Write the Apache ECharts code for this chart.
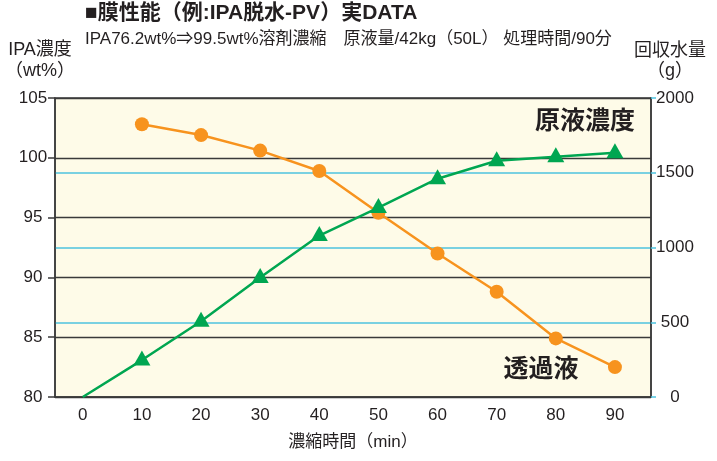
<!DOCTYPE html>
<html><head><meta charset="utf-8">
<script src="https://cdn.jsdelivr.net/npm/echarts@6/dist/echarts.min.js"></script>
<style>html,body{margin:0;padding:0;background:#fff}#c{width:717px;height:461px}</style>
</head><body><div id="c"></div>
<script>
const times = [0, 10, 20, 30, 40, 50, 60, 70, 80, 90];
const xTickLabels = [0, 10, 20, 30, 40, 50, 60, 70, 80, 90];
const feedTimes = [10, 20, 30, 40, 50, 60, 70, 80, 90];
const permeateConc = [102.8, 101.9, 100.6, 98.9, 95.4, 92.0, 88.8, 84.9, 82.5];   // orange, left axis
const recoveredWater = [0, 247, 507, 800, 1080, 1267, 1460, 1580, 1607, 1633];   // green, right axis

const FONT = '"Liberation Sans", "Noto Sans CJK JP", sans-serif';
const TXT = '#231F20';
const chart = echarts.init(document.getElementById('c'));
chart.setOption({
  animation: false,
  textStyle: { fontFamily: FONT },
  grid: { left: 55, right: 66, top: 98, bottom: 64, show: true, backgroundColor: '#FEFBE8', borderColor: '#3a3a3a', borderWidth: 1.5 },
  xAxis: {
    type: 'value', min: -4.7, max: 96.1,
    axisLine: { show: true, lineStyle: { color: '#3a3a3a', width: 1.5 } },
    axisTick: { show: false },
    splitLine: { show: false },
    axisLabel: { customValues: xTickLabels, fontSize: 17, color: TXT, margin: 10, fontFamily: FONT },
    name: '濃縮時間（min）', nameLocation: 'middle', nameGap: 37,
    nameTextStyle: { fontSize: 17, color: TXT, fontFamily: FONT }
  },
  yAxis: [{
    type: 'value', min: 80, max: 105, interval: 5, position: 'left',
    axisLine: { show: true, onZero: false, lineStyle: { color: '#3a3a3a', width: 1.5 } },
    axisTick: { show: true, length: 7, lineStyle: { color: '#3a3a3a', width: 1.5 } },
    splitLine: { show: true, lineStyle: { color: '#3a3a3a', width: 1.3 } },
    axisLabel: { fontSize: 17, color: TXT, margin: 22, align: 'center', fontFamily: FONT }
  }, {
    type: 'value', min: 0, max: 2000, interval: 500, position: 'right',
    axisLine: { show: true, onZero: false, lineStyle: { color: '#3a3a3a', width: 1.5 } },
    axisTick: { show: true, length: 5, lineStyle: { color: '#4EC3DF', width: 1.5 } },
    splitLine: { show: true, showMinLine: false, showMaxLine: false, lineStyle: { color: '#4EC3DF', width: 1.5 } },
    axisLabel: { fontSize: 17, color: TXT, margin: 24, align: 'center', fontFamily: FONT,
      formatter: v => String(v) }
  }],
  series: [{
    type: 'line', name: '透過液', yAxisIndex: 0,
    data: feedTimes.map((t, i) => [t, permeateConc[i]]),
    symbol: 'circle', symbolSize: 14,
    lineStyle: { color: '#F7931E', width: 2.5 },
    itemStyle: { color: '#F7931E' }, z: 3
  }, {
    type: 'line', name: '原液濃度', yAxisIndex: 1,
    data: times.map((t, i) => (i === 0 ? { value: [t, recoveredWater[i]], symbol: 'none' } : [t, recoveredWater[i]])),
    symbol: 'triangle', symbolSize: [17, 15], symbolOffset: [0, -2],
    showSymbol: true,
    lineStyle: { color: '#00A651', width: 2.5 },
    itemStyle: { color: '#00A651' }, z: 4
  }],
  graphic: [
    { type: 'text', left: 85, top: 3, style: { text: '■膜性能（例:IPA脱水-PV）実DATA', font: 'bold 21px ' + FONT, fill: TXT } },
    { type: 'text', left: 85, top: 31, style: { text: 'IPA76.2wt%⇒99.5wt%溶剤濃縮　原液量/42kg（50L） 処理時間/90分', font: '17px ' + FONT, fill: TXT } },
    { type: 'text', x: 40, y: 50, style: { text: 'IPA濃度', font: '18px ' + FONT, fill: TXT, align: 'center', verticalAlign: 'middle' } },
    { type: 'text', x: 40, y: 71, style: { text: '（wt%）', font: '18px ' + FONT, fill: TXT, align: 'center', verticalAlign: 'middle' } },
    { type: 'text', x: 670, y: 51, style: { text: '回収水量', font: '18px ' + FONT, fill: TXT, align: 'center', verticalAlign: 'middle' } },
    { type: 'text', x: 670, y: 71, style: { text: '（g）', font: '18px ' + FONT, fill: TXT, align: 'center', verticalAlign: 'middle' } },
    { type: 'text', x: 585, y: 122, z: 10, style: { text: '原液濃度', font: 'bold 25px ' + FONT, fill: '#231F20', align: 'center', verticalAlign: 'middle' } },
    { type: 'text', x: 541, y: 370, z: 10, style: { text: '透過液', font: 'bold 25px ' + FONT, fill: '#231F20', align: 'center', verticalAlign: 'middle' } }
  ]
});
</script></body></html>
